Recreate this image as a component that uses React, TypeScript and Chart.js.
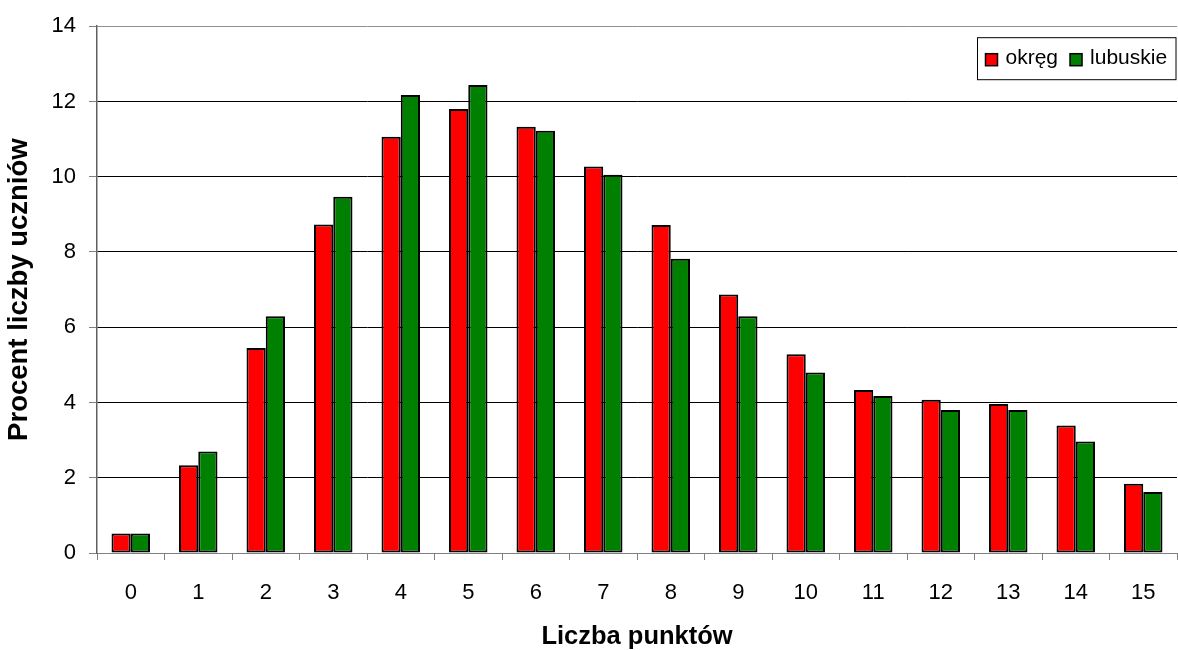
import React, { useEffect, useRef } from "react";
import { Chart, registerables } from "chart.js";

Chart.register(...registerables);

const categories = ["0", "1", "2", "3", "4", "5", "6", "7", "8", "9", "10", "11", "12", "13", "14", "15"];
const okreg = [0.52, 2.33, 5.45, 8.73, 11.06, 11.8, 11.33, 10.27, 8.72, 6.87, 5.28, 4.33, 4.07, 3.96, 3.39, 1.84];
const lubuskie = [0.52, 2.7, 6.29, 9.47, 12.17, 12.44, 11.22, 10.05, 7.82, 6.29, 4.8, 4.17, 3.8, 3.8, 2.96, 1.62];
const seriesNames = ["okręg", "lubuskie"];
const seriesColors = ["#FF0000", "#008000"];
const yTitle = "Procent liczby uczniów";
const xTitle = "Liczba punktów";

const FONT = "Arial, 'Liberation Sans', sans-serif";

const legendPlugin = {
  id: "boxedLegend",
  afterDraw(chart: any) {
    const { ctx, chartArea } = chart;
    ctx.save();
    ctx.font = `21px ${FONT}`;
    const widths = seriesNames.map((n) => ctx.measureText(n).width);
    const padL = 8, box = 12, gapText = 8, gapItem = 12, padR = 10;
    const totalW = padL + widths.reduce((s, w, i) => s + box + gapText + w + (i < widths.length - 1 ? gapItem : 0), 0) + padR;
    const h = 42;
    const right = chartArea.right;
    const left = Math.round(right - totalW) + 0.5;
    const top = chartArea.top + 11.5;
    ctx.fillStyle = "#ffffff";
    ctx.fillRect(left, top, right - left, h);
    ctx.strokeStyle = "#000000";
    ctx.lineWidth = 1;
    ctx.strokeRect(left, top, right - left - 1, h);
    let x = left + padL;
    const cy = top + h / 2;
    seriesNames.forEach((name, i) => {
      ctx.fillStyle = seriesColors[i];
      ctx.fillRect(x, cy - box / 2 + 1, box, box);
      ctx.lineWidth = 1.5;
      ctx.strokeStyle = "#000";
      ctx.strokeRect(x, cy - box / 2 + 1, box, box);
      x += box + gapText;
      ctx.fillStyle = "#000";
      ctx.textBaseline = "middle";
      ctx.textAlign = "left";
      ctx.fillText(name, x, cy);
      x += widths[i] + gapItem;
    });
    ctx.restore();
  },
};

export default function App() {
  const ref = useRef<HTMLCanvasElement>(null);
  useEffect(() => {
    document.body.style.margin = "0";
    const canvas = ref.current;
    if (!canvas) return;
    const chart = new Chart(canvas, {
      type: "bar",
      data: {
        labels: categories,
        datasets: [
          {
            label: seriesNames[0],
            data: okreg,
            backgroundColor: seriesColors[0],
            borderColor: "#000000",
            borderWidth: 2,
            borderSkipped: false,
            categoryPercentage: 0.57,
            barPercentage: 1.0,
          },
          {
            label: seriesNames[1],
            data: lubuskie,
            backgroundColor: seriesColors[1],
            borderColor: "#000000",
            borderWidth: 2,
            borderSkipped: false,
            categoryPercentage: 0.57,
            barPercentage: 1.0,
          },
        ],
      },
      options: {
        responsive: false,
        animation: false,
        devicePixelRatio: 1,
        layout: { padding: { top: 24, right: 1, left: 0, bottom: 0 } },
        plugins: {
          legend: { display: false },
          tooltip: { enabled: false },
        },
        scales: {
          x: {
            afterFit: (s: any) => {
              s.height = 97;
            },
            grid: {
              display: true,
              drawOnChartArea: false,
              offset: true,
              tickLength: 7,
              color: "#808080",
            },
            border: { color: "#808080", width: 1 },
            ticks: {
              color: "#000",
              font: { family: FONT, size: 22 },
              padding: 20,
              maxRotation: 0,
            },
            title: {
              display: true,
              text: xTitle,
              color: "#000",
              font: { family: FONT, size: 25.5, weight: "bold", lineHeight: 1 },
              padding: { top: 0, bottom: 0 },
            },
          },
          y: {
            min: 0,
            max: 14,
            afterFit: (s: any) => {
              s.width = 97;
            },
            ticks: {
              stepSize: 2,
              color: "#000",
              font: { family: FONT, size: 22 },
              padding: 13,
            },
            grid: {
              color: (c: any) => (c.tick && (c.tick.value === 0 || c.tick.value === 14) ? "#909090" : "#000000"),
              tickColor: "#808080",
              tickLength: 8,
              lineWidth: 1,
            },
            border: { color: "#606060", width: 1.5 },
            title: {
              display: true,
              text: yTitle,
              color: "#000",
              font: { family: FONT, size: 27.5, weight: "bold", lineHeight: 1 },
              padding: { top: 6, bottom: 0 },
            },
          },
        },
      },
      plugins: [legendPlugin],
    });
    return () => chart.destroy();
  }, []);
  return <canvas ref={ref} width={1178} height={650} style={{ display: "block" }} />;
}
